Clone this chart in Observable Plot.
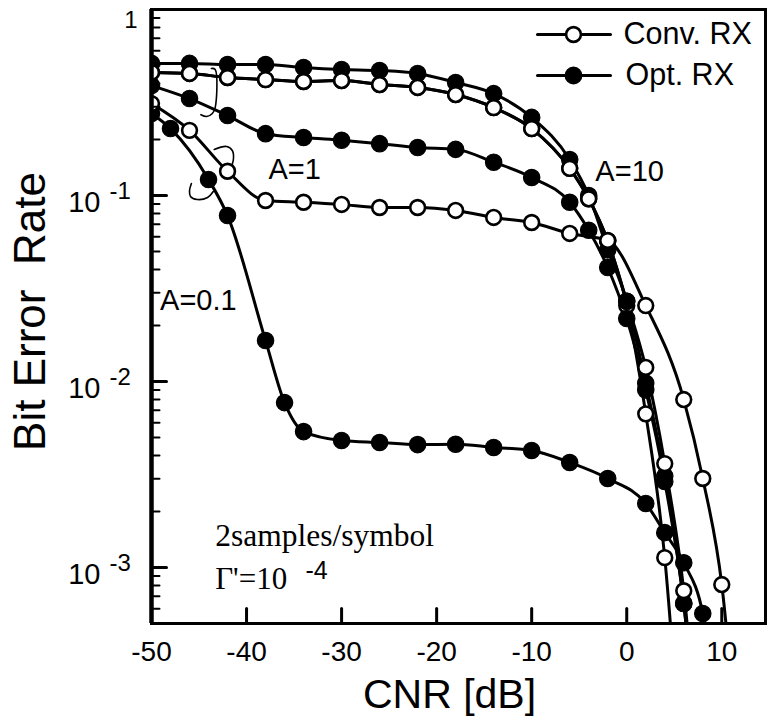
<!DOCTYPE html>
<html><head><meta charset="utf-8">
<script src="https://cdn.jsdelivr.net/npm/d3@7"></script>
<script src="https://cdn.jsdelivr.net/npm/@observablehq/plot@0.6"></script>
<style>body{margin:0;background:#fff}svg{display:block}</style>
</head><body><div id="chart"></div>
<script>
// ---- data (CNR in dB, bit error rate) ----
const cnrA10Opt  = [-50,-46,-42,-38,-34,-30,-26,-22,-18,-14,-10,-6,-4,-2,0,2,4,6,8];
const berA10Opt  = [0.513,0.513,0.506,0.506,0.488,0.476,0.470,0.453,0.405,0.353,0.263,0.156,0.100,0.051,0.027,0.0098,0.0031,0.00064,0.00005];
const cnrA10Conv = [-50,-46,-42,-38,-34,-30,-26,-22,-18,-14,-10,-6,-4,-2,0,2,4,6];
const berA10Conv = [0.459,0.453,0.431,0.420,0.410,0.415,0.395,0.381,0.349,0.297,0.229,0.140,0.096,0.057,0.0256,0.0067,0.00113,0.00005];
const cnrA1Conv  = [-50,-46,-42,-38,-34,-30,-26,-22,-18,-14,-10,-6,-4,-2,0,2,4,6,8];
const berA1Conv  = [0.459,0.453,0.431,0.420,0.410,0.415,0.395,0.381,0.349,0.297,0.229,0.140,0.096,0.057,0.027,0.0119,0.00362,0.00075,0.00005];
const cnrA1Opt   = [-50,-46,-42,-38,-34,-30,-26,-22,-18,-14,-10,-6,-4,-2,0,2,4,6,8];
const berA1Opt   = [0.390,0.332,0.269,0.215,0.205,0.198,0.190,0.181,0.177,0.151,0.125,0.092,0.065,0.041,0.0218,0.0090,0.0029,0.00064,0.00005];
const cnrA01Conv = [-50,-46,-42,-38,-34,-30,-26,-22,-18,-14,-10,-6,-2,2,6,8,10,12];
const berA01Conv = [0.312,0.224,0.135,0.094,0.092,0.0895,0.0862,0.0862,0.0831,0.0762,0.0716,0.0625,0.0573,0.0256,0.0080,0.00301,0.00081,0.00006];
const cnrA01Opt  = [-50,-48,-44,-42,-38,-36,-34,-30,-26,-22,-18,-14,-10,-6,-2,2,4,6,8,10];
const berA01Opt  = [0.276,0.229,0.122,0.078,0.0166,0.0077,0.00538,0.00482,0.0047,0.00458,0.0046,0.00442,0.00426,0.00367,0.00301,0.00221,0.00154,0.00106,0.000566,0.0001];

// axis ticks and labels
const xTicks = [-50,-40,-30,-20,-10,0,10];
const yTickValues = [1,0.1,0.01,0.001];
const yTickBase = ["1","10","10","10"];
const yTickExp = ["","-1","-2","-3"];
const yMinorTicks = [0.001,0.01,0.1].flatMap(d => [2,3,4,5,6,7,8,9].map(k => k*d)).concat([0.0006,0.0007,0.0008,0.0009]);

// annotations
const legendLabels = ["Conv. RX","Opt. RX"];
const annotations = [
  {x:-37.7, y:0.1234, text:"A=1"},
  {x:-3.3, y:0.119, text:"A=10"},
  {x:-49.1, y:0.0241, text:"A=0.1"}
];
const brackets = [
  {id:1, xs:[-43.7,-43.3,-43.3,-43.6,-44.2,-44.8], ys:[0.482,0.476,0.297,0.276,0.266,0.272]},
  {id:2, xs:[-43.4,-42.1,-41.5,-41.4,-41.7,-42.2], ys:[0.177,0.1834,0.1746,0.1542,0.1415,0.1346]},
  {id:3, xs:[-45.8,-46.0,-45.9,-45.2,-44.1,-43.5], ys:[0.116,0.1064,0.0988,0.0952,0.0976,0.1051]}
];

const rows = [];
function add(series, rx, xs, ys){ xs.forEach((x,i)=>rows.push({series, rx, cnr:x, ber:ys[i]})); }
add("A10 Opt","Opt",cnrA10Opt,berA10Opt);
add("A10 Conv","Conv",cnrA10Conv,berA10Conv);
add("A1 Conv","Conv",cnrA1Conv,berA1Conv);
add("A1 Opt","Opt",cnrA1Opt,berA1Opt);
add("A0.1 Conv","Conv",cnrA01Conv,berA01Conv);
add("A0.1 Opt","Opt",cnrA01Opt,berA01Opt);
const bracketRows = brackets.flatMap(b => b.xs.map((x,i)=>({id:b.id, x, y:b.ys[i]})));

const tickShape = {draw(ctx, l){ ctx.moveTo(0,0); ctx.lineTo(0,-l); }};
const sans = "'Liberation Sans', Arial, Helvetica, sans-serif";
const serif = "'Liberation Serif', 'Times New Roman', serif";
const openDot = {r:7.4, fill:"white", stroke:"black", strokeWidth:2.6, clip:true};

const chart = Plot.plot({
  width: 767, height: 719,
  marginLeft: 151, marginRight: 2, marginTop: 9, marginBottom: 96,
  style: {fontFamily: sans, background: "white", color: "black"},
  x: {domain: [-50, 14.6], axis: null},
  y: {type: "log", domain: [5e-4, 1], axis: null},
  marks: [
    Plot.line(bracketRows, {x:"x", y:"y", z:"id", stroke:"black", strokeWidth:1.6, curve:"catmull-rom"}),
    Plot.line(rows, {x:"cnr", y:"ber", z:"series", stroke:"black", strokeWidth:3, curve:"monotone-x", clip:true}),
    // open markers at 0 dB sit underneath the filled ones in the reference
    Plot.dot(rows.filter(d=>d.rx==="Conv" && d.cnr===0), {x:"cnr", y:"ber", ...openDot}),
    Plot.dot(rows.filter(d=>d.rx==="Opt"), {x:"cnr", y:"ber", r:8.2, fill:"black", stroke:"black", strokeWidth:1.2, clip:true}),
    Plot.dot(rows.filter(d=>d.rx==="Conv" && d.cnr!==0), {x:"cnr", y:"ber", ...openDot}),
    Plot.frame({stroke:"black", strokeWidth:3}),
    Plot.ruleX([-50], {stroke:"black", strokeWidth:4.5}),
    // ticks pointing inward
    Plot.vector(yTickValues, {y:d=>d, frameAnchor:"left", length:15, rotate:90, anchor:"start", shape:tickShape, strokeWidth:3, stroke:"black"}),
    Plot.vector(yMinorTicks, {y:d=>d, frameAnchor:"left", length:8, rotate:90, anchor:"start", shape:tickShape, strokeWidth:2, stroke:"black"}),
    Plot.vector(xTicks.slice(1), {x:d=>d, frameAnchor:"bottom", length:15, rotate:0, anchor:"start", shape:tickShape, strokeWidth:3, stroke:"black"}),
    // tick labels
    Plot.text(xTicks, {x:d=>d, frameAnchor:"bottom", text:d=>String(d), textAnchor:"middle", lineAnchor:"bottom", dy:37, fontSize:28}),
    Plot.text(yTickValues.slice(0,1), {y:d=>d, frameAnchor:"left", text:(d,i)=>yTickBase[i], textAnchor:"end", lineAnchor:"middle", dx:-14, dy:11, fontSize:24}),
    Plot.text(yTickValues.slice(1), {y:d=>d, frameAnchor:"left", text:(d,i)=>yTickBase[i+1], textAnchor:"end", lineAnchor:"middle", dx:-51, dy:7, fontSize:29}),
    Plot.text(yTickValues.slice(1), {y:d=>d, frameAnchor:"left", text:(d,i)=>yTickExp[i+1], textAnchor:"start", lineAnchor:"middle", dx:-42, dy:-4, fontSize:24}),
    // axis titles
    Plot.text(["CNR [dB]"], {frameAnchor:"bottom", text:d=>d, textAnchor:"middle", lineAnchor:"bottom", dx:-9, dy:84, fontSize:41}),
    Plot.text(["Bit Error\u00a0 Rate"], {frameAnchor:"left", text:d=>d, rotate:-90, textAnchor:"middle", lineAnchor:"middle", dx:-121, dy:-5, fontSize:44}),
    // in-plot annotations
    Plot.text(annotations, {x:"x", y:"y", text:"text", textAnchor:"start", lineAnchor:"bottom", fontSize:29}),
    Plot.text(["2samples/symbol"], {x:-43.3, y:0.00131, text:d=>d, textAnchor:"start", lineAnchor:"bottom", fontSize:31.5, fontFamily:serif}),
    Plot.text(["\u0393'=10"], {x:-43.3, y:0.00077, text:d=>d, textAnchor:"start", lineAnchor:"bottom", fontSize:31, fontFamily:serif}),
    Plot.text(["-4"], {x:-33.8, y:0.00087, text:d=>d, textAnchor:"start", lineAnchor:"bottom", fontSize:25}),
    // legend
    Plot.vector(legendLabels, {frameAnchor:"top-right", dx:-228, dy:25, length:73, rotate:90, anchor:"start", shape:tickShape, strokeWidth:3, stroke:"black", filter:(d,i)=>i===0}),
    Plot.vector(legendLabels, {frameAnchor:"top-right", dx:-228, dy:66, length:73, rotate:90, anchor:"start", shape:tickShape, strokeWidth:3, stroke:"black", filter:(d,i)=>i===1}),
    Plot.dot(legendLabels, {frameAnchor:"top-right", dx:-192, dy:25, r:7.4, fill:"white", stroke:"black", strokeWidth:2.6, filter:(d,i)=>i===0}),
    Plot.dot(legendLabels, {frameAnchor:"top-right", dx:-192, dy:66, r:8.2, fill:"black", stroke:"black", filter:(d,i)=>i===1}),
    Plot.text(legendLabels, {frameAnchor:"top-right", text:d=>d, dx:-142, dy:25, textAnchor:"start", lineAnchor:"middle", fontSize:30.5, filter:(d,i)=>i===0}),
    Plot.text(legendLabels, {frameAnchor:"top-right", text:d=>d, dx:-140, dy:66, textAnchor:"start", lineAnchor:"middle", fontSize:30.5, filter:(d,i)=>i===1})
  ]
});
document.getElementById("chart").append(chart);
</script>
</body></html>
